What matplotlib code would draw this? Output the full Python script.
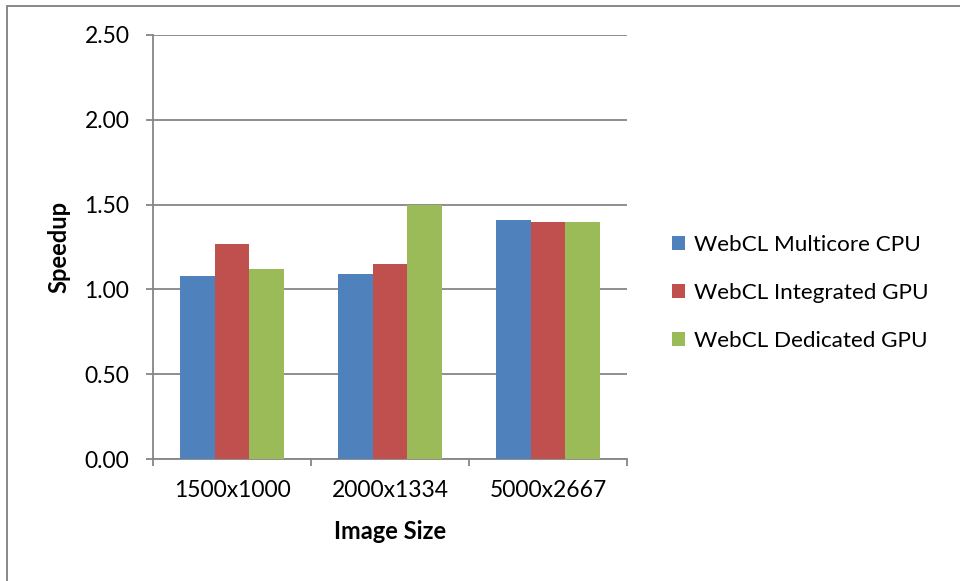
import matplotlib
matplotlib.use("Agg")
import matplotlib.pyplot as plt
import numpy as np
from matplotlib.patches import Rectangle

categories = ["1500x1000", "2000x1334", "5000x2667"]
series_names = ["WebCL Multicore CPU", "WebCL Integrated GPU", "WebCL Dedicated GPU"]
multicore_cpu = [1.08, 1.09, 1.41]
integrated_gpu = [1.27, 1.15, 1.40]
dedicated_gpu = [1.12, 1.50, 1.40]
y_ticks = [0.0, 0.5, 1.0, 1.5, 2.0, 2.5]

colors = ["#4F81BD", "#C0504D", "#9BBB59"]
grid_color = "#868686"

plt.rcParams["font.family"] = ["Lato", "DejaVu Sans"]

fig = plt.figure(figsize=(9.6, 5.81), dpi=100)
ax = fig.add_axes([153 / 960, 1 - 459 / 581, (627 - 153) / 960, (459 - 35) / 581])

x = np.arange(len(categories))
bar_w = 0.2215
for i, (vals, name) in enumerate(zip([multicore_cpu, integrated_gpu, dedicated_gpu], series_names)):
    ax.bar(x + (i - 1) * bar_w, vals, width=bar_w, color=colors[i], label=name,
           edgecolor="none", zorder=3)

ax.set_xlim(-0.5, len(categories) - 0.5)
ax.set_ylim(0, 2.5)
ax.set_yticks(y_ticks)
ax.set_yticklabels([f"{v:.2f}" for v in y_ticks])
ax.yaxis.grid(True, color=grid_color, linewidth=1.3, zorder=0)
ax.set_axisbelow(True)

# category labels centered, tick marks at category boundaries
ax.set_xticks(x)
ax.set_xticklabels(categories)
ax.tick_params(axis="x", length=0, pad=15, labelsize=16.5)
ax.set_xticks(np.arange(-0.5, len(categories)), minor=True)
ax.tick_params(axis="x", which="minor", length=5, width=1.3, color=grid_color, direction="out")
ax.tick_params(axis="y", length=5, width=1.3, color=grid_color, direction="out",
               labelsize=16.5, pad=12)

for side in ["top", "right"]:
    ax.spines[side].set_visible(False)
for side in ["left", "bottom"]:
    ax.spines[side].set_color(grid_color)
    ax.spines[side].set_linewidth(1.3)

ax.set_ylabel("Speedup", fontsize=17, fontweight="bold", labelpad=10)
ax.set_xlabel("Image Size", fontsize=17, fontweight="bold", labelpad=14)

leg = fig.legend(loc="center left", bbox_to_anchor=(652 / 960, 1 - 293 / 581), frameon=False,
                 fontsize=16.2, handlelength=0.55, handleheight=0.55, handletextpad=0.4,
                 labelspacing=1.25)

# outer chart border
fig.patches.append(Rectangle((7 / 960, -0.05), 1.1, 1 - 6 / 581 + 0.05, transform=fig.transFigure,
                             fill=False, edgecolor="#7f7f7f", linewidth=1.3))

fig.savefig("out.png", dpi=100)
